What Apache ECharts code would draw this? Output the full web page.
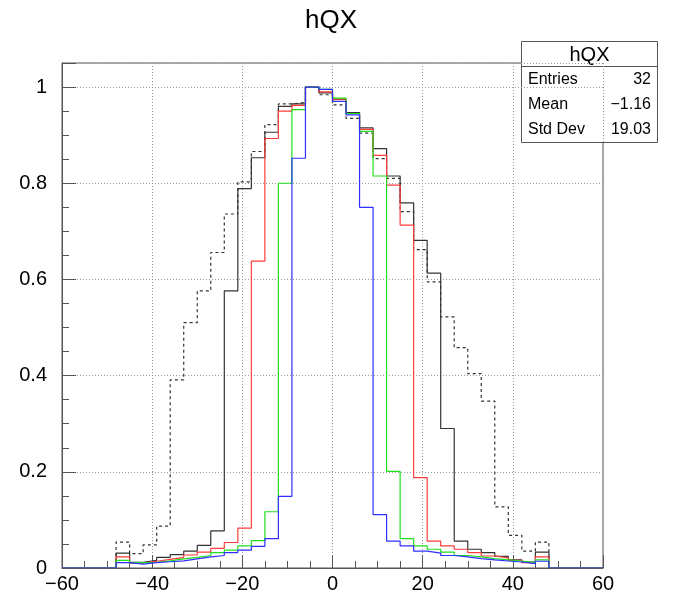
<!DOCTYPE html>
<html>
<head>
<meta charset="utf-8">
<script src="https://cdn.jsdelivr.net/npm/echarts@6/dist/echarts.min.js"></script>
<style>
  html, body { margin: 0; padding: 0; background: #fff; }
  #chart { width: 674px; height: 595px; }
</style>
</head>
<body>
<div id="chart"></div>
<script>
// Binning: 32 bins of width 3 starting at -48; axis spans -60..60
const binLow = -48;
const binWidth = 3;
const xRange = [-60, 60];
const yRange = [0, 1.05];

// Normalised bin contents, one entry per bin
const hDashed = [0.054, 0.030, 0.048, 0.087, 0.391, 0.510, 0.576, 0.656, 0.736, 0.803,
                 0.866, 0.922, 0.965, 0.968, 1.000, 0.984, 0.963, 0.935, 0.904, 0.851,
                 0.810, 0.741, 0.662, 0.595, 0.522, 0.458, 0.404, 0.347, 0.127, 0.068,
                 0.035, 0.054];
const hBlack  = [0.031, 0.012, 0.016, 0.022, 0.028, 0.035, 0.047, 0.077, 0.576, 0.789,
                 0.853, 0.906, 0.960, 0.965, 1.000, 0.988, 0.974, 0.947, 0.915, 0.872,
                 0.815, 0.759, 0.681, 0.613, 0.290, 0.056, 0.039, 0.032, 0.024, 0.017,
                 0.0125, 0.033];
const hRed    = [0.023, 0.010, 0.014, 0.018, 0.022, 0.027, 0.033, 0.041, 0.053, 0.083,
                 0.638, 0.893, 0.950, 0.962, 1.000, 0.990, 0.975, 0.945, 0.912, 0.858,
                 0.796, 0.713, 0.188, 0.056, 0.046, 0.039, 0.032, 0.025, 0.021, 0.016,
                 0.011, 0.023];
const hGreen  = [0.016, 0.011, 0.012, 0.015, 0.019, 0.022, 0.026, 0.032, 0.037, 0.046,
                 0.057, 0.117, 0.800, 0.953, 1.000, 0.995, 0.977, 0.945, 0.908, 0.815,
                 0.201, 0.061, 0.046, 0.039, 0.033, 0.026, 0.023, 0.0195, 0.017, 0.0146,
                 0.011, 0.017];
const hBlue   = [0.011, 0.008, 0.011, 0.013, 0.015, 0.019, 0.023, 0.026, 0.032, 0.037,
                 0.045, 0.061, 0.149, 0.852, 1.000, 0.995, 0.970, 0.942, 0.750, 0.111,
                 0.056, 0.046, 0.035, 0.031, 0.026, 0.023, 0.0195, 0.017, 0.0146, 0.0125,
                 0.009, 0.014];

// Statistics panel text
const statsTitle = 'hQX';
const statsLabels = ['Entries', 'Mean', 'Std Dev'];
const statsValues = ['32', '\u22121.16', '19.03'];

const FONT = '"Liberation Sans", Arial, Helvetica, sans-serif';
const AXIS_COLOR = '#555';

// Turn bin contents into a step outline (ROOT-style histogram)
function stepOutline(vals) {
  const pts = [[xRange[0], 0], [binLow, 0]];
  vals.forEach((v, i) => {
    const lo = binLow + i * binWidth;
    pts.push([lo, v], [lo + binWidth, v]);
  });
  pts.push([binLow + vals.length * binWidth, 0], [xRange[1], 0]);
  return pts;
}

function histSeries(name, vals, color, dashed) {
  return {
    name: name,
    type: 'line',
    data: stepOutline(vals),
    showSymbol: false,
    symbol: 'none',
    animation: false,
    xAxisIndex: 0,
    yAxisIndex: 0,
    lineStyle: { color: color, width: 1.2, type: dashed ? [3, 3] : 'solid' },
    emphasis: { disabled: true }
  };
}

const minus = s => String(s).replace('-', '\u2212');

const chart = echarts.init(document.getElementById('chart'), null, { renderer: 'canvas' });

const grid = { left: 62, right: 71, top: 63, bottom: 27, show: true, borderColor: AXIS_COLOR, borderWidth: 1, backgroundColor: 'transparent' };

chart.setOption({
  animation: false,
  backgroundColor: '#fff',
  grid: grid,
  xAxis: [{
    type: 'value',
    position: 'bottom',
    min: xRange[0], max: xRange[1], interval: 20,
    axisLine: { show: true, onZero: false, lineStyle: { color: AXIS_COLOR, width: 1 } },
    axisTick: { show: true, inside: true, length: 13, lineStyle: { color: AXIS_COLOR } },
    minorTick: { show: true, splitNumber: 4, length: 7, lineStyle: { color: AXIS_COLOR } },
    splitLine: { show: true, lineStyle: { color: '#9a9a9a', type: [1, 2], width: 1 } },
    axisLabel: { fontFamily: FONT, fontSize: 20, color: '#000', margin: 6, formatter: v => minus(v) }
  }],
  yAxis: [{
    type: 'value',
    position: 'left',
    min: yRange[0], max: yRange[1], interval: 0.2,
    axisLine: { show: true, onZero: false, lineStyle: { color: AXIS_COLOR, width: 1 } },
    axisTick: { show: true, inside: true, length: 14, lineStyle: { color: AXIS_COLOR } },
    splitLine: { show: true, lineStyle: { color: '#9a9a9a', type: [1, 2], width: 1 } },
    axisLabel: {
      fontFamily: FONT, fontSize: 20, color: '#000', margin: 15,
      formatter: v => (v > 1.001 ? '' : String(+v.toFixed(1)))
    }
  }, {
    // secondary scale carrying only the short sub-division ticks
    type: 'value',
    position: 'left',
    min: yRange[0], max: yRange[1], interval: 0.05,
    axisLine: { show: false, onZero: false },
    axisTick: { show: true, inside: true, length: 7, lineStyle: { color: AXIS_COLOR } },
    splitLine: { show: false },
    axisLabel: { show: false }
  }],
  series: [
    histSeries('dashed', hDashed, '#333', true),
    histSeries('black', hBlack, '#333', false),
    histSeries('red', hRed, '#ff3b3b', false),
    histSeries('green', hGreen, '#1fe01f', false),
    histSeries('blue', hBlue, '#2f2fff', false)
  ],
  graphic: [
    {
      type: 'text', z: 100,
      x: 331, y: 21,
      style: { text: 'hQX', font: '26px ' + FONT, fill: '#000', textAlign: 'center', textVerticalAlign: 'middle' }
    },
    {
      type: 'group', z: 100,
      children: [
        { type: 'rect', shape: { x: 521.5, y: 41.5, width: 136, height: 101 },
          style: { fill: '#fff', stroke: AXIS_COLOR, lineWidth: 1 } },
        { type: 'line', shape: { x1: 521.5, y1: 66.5, x2: 657.5, y2: 66.5 },
          style: { stroke: AXIS_COLOR, lineWidth: 1 } },
        { type: 'text', x: 589.5, y: 55,
          style: { text: statsTitle, font: '20px ' + FONT, fill: '#000', textAlign: 'center', textVerticalAlign: 'middle' } }
      ].concat(statsLabels.map((t, i) => ({
        type: 'text', x: 528, y: 80 + i * 25,
        style: { text: t, font: '16px ' + FONT, fill: '#000', textAlign: 'left', textVerticalAlign: 'middle' }
      }))).concat(statsValues.map((t, i) => ({
        type: 'text', x: 651, y: 80 + i * 25,
        style: { text: t, font: '16px ' + FONT, fill: '#000', textAlign: 'right', textVerticalAlign: 'middle' }
      })))
    }
  ]
});
</script>
</body>
</html>
